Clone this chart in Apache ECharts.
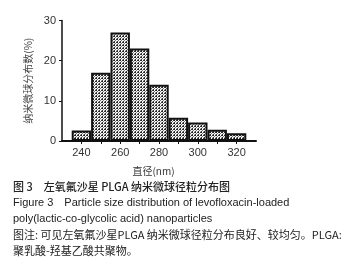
<!DOCTYPE html>
<html>
<head>
<meta charset="utf-8">
<script src="https://cdn.jsdelivr.net/npm/echarts@6/dist/echarts.min.js"></script>
<style>
  html, body { margin: 0; padding: 0; background: #fff; }
  #chart { width: 345px; height: 258px; }
</style>
</head>
<body>
<div id="chart"></div>
<script>
// particle size bins (nm) and their share (%)
var binCenters = [240, 250, 260, 270, 280, 290, 300, 310, 320];
var percents = [2.6, 17, 27, 23, 14, 5.8, 4.6, 2.8, 1.9];
var xLabels = [240, 260, 280, 300, 320];
var xTicks = [240, 250, 260, 270, 280, 290, 300, 310, 320];
var yLabels = [0, 10, 20, 30];

var captionLines = [
  '图 3　左氧氟沙星 PLGA 纳米微球径粒分布图',
  'Figure 3　Particle size distribution of levofloxacin-loaded',
  'poly(lactic-co-glycolic acid) nanoparticles',
  '图注: 可见左氧氟沙星PLGA 纳米微球径粒分布良好、较均匀。PLGA:',
  '聚乳酸-羟基乙酸共聚物。'
];

// dotted fill like the printed hatch
function makePattern () {
  var c = document.createElement('canvas');
  c.width = 3;
  c.height = 3;
  var ctx = c.getContext('2d');
  var px = [
    ['#222', '#fff', '#333'],
    ['#eee', '#777', '#fff'],
    ['#333', '#fff', '#bbb']
  ];
  for (var y = 0; y < 3; y++) {
    for (var x = 0; x < 3; x++) {
      ctx.fillStyle = px[y][x];
      ctx.fillRect(x, y, 1, 1);
    }
  }
  return c;
}

var chart = echarts.init(document.getElementById('chart'), null, { renderer: 'canvas' });

var font = 'Liberation Sans, Arial, "Noto Sans CJK SC", sans-serif';
var cjk = '"Noto Sans CJK SC", sans-serif';

var graphics = captionLines.map(function (t, i) {
  return {
    type: 'text',
    left: 13,
    top: 181 + i * 16,
    style: {
      text: t,
      fill: '#222',
      font: (i === 0 ? '500 ' : '') + '11px ' + (i === 1 || i === 2 ? font : cjk)
    }
  };
});

var option = {
  animation: false,
  grid: {
    left: 62,
    right: 89,
    top: 20.5,
    bottom: 117,
    containLabel: false
  },
  xAxis: {
    type: 'value',
    min: 230,
    max: 330,
    name: '直径(nm)',
    nameLocation: 'middle',
    nameGap: 25,
    nameTextStyle: {
      fontFamily: cjk,
      fontSize: 10,
      color: '#333',
      padding: [0, 11, 0, 0]
    },
    axisLine: { show: true, lineStyle: { color: '#111', width: 2 } },
    axisTick: {
      show: true,
      length: 3,
      customValues: xTicks,
      lineStyle: { color: '#111', width: 1 }
    },
    axisLabel: {
      customValues: xLabels,
      margin: 6,
      fontFamily: font,
      fontSize: 11,
      color: '#333'
    },
    splitLine: { show: false }
  },
  yAxis: {
    type: 'value',
    min: 0,
    max: 30,
    interval: 10,
    name: '纳米微球分布数(%)',
    nameLocation: 'middle',
    nameGap: 27,
    nameRotate: 90,
    nameTextStyle: {
      fontFamily: cjk,
      fontSize: 10,
      color: '#444'
    },
    axisLine: { show: true, lineStyle: { color: '#111', width: 1.5 } },
    axisTick: { show: true, length: 3, lineStyle: { color: '#111' } },
    axisLabel: {
      customValues: yLabels,
      margin: 6,
      fontFamily: font,
      fontSize: 11,
      color: '#333'
    },
    splitLine: { show: false }
  },
  series: [{
    type: 'bar',
    barWidth: 19.4,
    data: binCenters.map(function (c, i) { return [c, percents[i]] }),
    itemStyle: {
      color: { image: makePattern(), repeat: 'repeat' },
      borderColor: '#111',
      borderWidth: 2
    }
  }],
  graphic: graphics
};

chart.setOption(option);
</script>
</body>
</html>
